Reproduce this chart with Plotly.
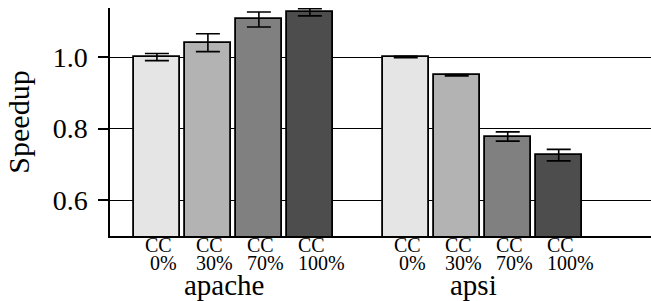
import plotly.graph_objects as go

groups = ["apache", "apsi"]
levels = ["0%", "30%", "70%", "100%"]
level_labels = ["\u00a00%", "30%", "70%", "100%"]
apache_vals = [1.000, 1.040, 1.105, 1.125]
apache_err = [0.010, 0.025, 0.021, 0.010]
apsi_vals = [1.000, 0.949, 0.778, 0.726]
apsi_err = [0.002, 0.002, 0.013, 0.016]
colors = ["#e5e5e5", "#b3b3b3", "#808080", "#4d4d4d"]

values = [apache_vals, apsi_vals]
errors = [apache_err, apsi_err]
GROUP_PITCH = 4.88
FONT = "Liberation Serif"

fig = go.Figure()
for i, lev in enumerate(levels):
    xs = [g * GROUP_PITCH + i for g in range(len(groups))]
    fig.add_trace(go.Bar(
        x=xs,
        y=[values[g][i] for g in range(len(groups))],
        width=0.9,
        marker=dict(color=colors[i], line=dict(color="black", width=1.8)),
        error_y=dict(type="data", array=[errors[g][i] for g in range(len(groups))],
                     color="black", thickness=1.6, width=12),
        name="CC " + lev,
        showlegend=False,
    ))

annotations = []
for g, grp in enumerate(groups):
    xs = [g * GROUP_PITCH + i for i in range(len(levels))]
    for i in range(len(levels)):
        annotations.append(dict(text="CC", x=xs[i], xref="x", xanchor="left", xshift=-14,
                                y=0, yref="paper", yanchor="top", yshift=4,
                                showarrow=False, font=dict(family=FONT, size=20, color="black")))
        annotations.append(dict(text=level_labels[i], x=xs[i], xref="x", xanchor="left", xshift=-14,
                                y=0, yref="paper", yanchor="top", yshift=-14,
                                showarrow=False, font=dict(family=FONT, size=20, color="black")))
    annotations.append(dict(text=grp, x=sum(xs) / len(xs), xref="x", xanchor="center", xshift=-9,
                            y=0, yref="paper", yanchor="top", yshift=-31,
                            showarrow=False, font=dict(family=FONT, size=29, color="black")))

fig.update_layout(
    width=651, height=301,
    margin=dict(l=110, r=0, t=8, b=65),
    paper_bgcolor="white", plot_bgcolor="white",
    font=dict(family=FONT, color="black"),
    annotations=annotations,
    bargap=0,
)
fig.update_xaxes(range=[-0.92, 9.69], showticklabels=False, ticks="", showgrid=False,
                 zeroline=False, showline=True, linecolor="black", linewidth=1.5, automargin=False)
fig.update_yaxes(range=[0.5, 1.137], tickvals=[0.6, 0.8, 1.0], ticktext=["0.6", "0.8", "1.0"],
                 tickfont=dict(family=FONT, size=28, color="black"), ticklabelstandoff=5,
                 ticks="outside", ticklen=10, tickcolor="black", tickwidth=1.5,
                 showgrid=True, gridcolor="black", gridwidth=1.2, automargin=False,
                 zeroline=False, showline=True, linecolor="black", linewidth=1.5,
                 title=dict(text="Speedup", font=dict(family=FONT, size=30, color="black"), standoff=14))

fig.write_html("out.html", config={"displayModeBar": False},
               post_script=("document.documentElement.style.overflow='hidden';"
                            "document.body.style.overflow='hidden';"
                            "document.body.style.margin='0';document.body.style.padding='0';"))
